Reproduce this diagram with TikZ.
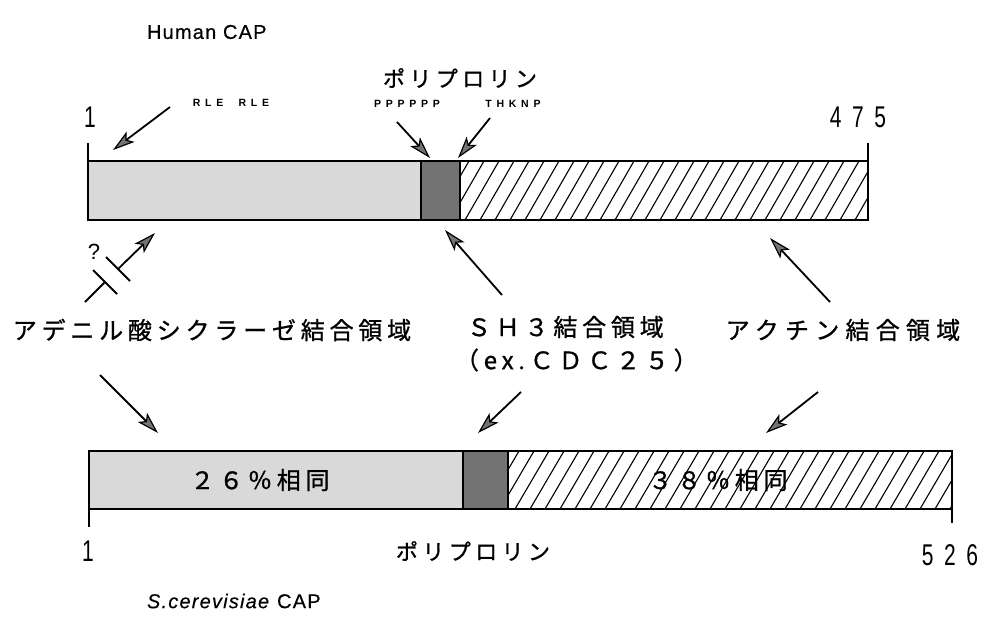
\documentclass[tikz,border=0pt]{standalone}
\usepackage{fontspec}
\usepackage{graphicx}
\setmainfont{Liberation Sans}
\newfontfamily\jp[LetterSpace=20,FakeBold=1.0]{Noto Sans CJK JP}
\newfontfamily\jpw[LetterSpace=26,FakeBold=1.0]{Noto Sans CJK JP}
\newfontfamily\lat[LetterSpace=6,FakeBold=0.4]{Liberation Sans}
\newfontfamily\smallsp[LetterSpace=45]{Liberation Sans}
\usetikzlibrary{arrows.meta,calc}
\tikzset{
  barline/.style={draw,line width=1.7pt},
  lightseg/.style={fill=black!15},
  darkseg/.style={fill=black!55},
  hatchline/.style={line width=1.1pt},
  arr/.style={line width=1.8pt,-{Stealth[length=22pt,width=13pt,inset=5pt,fill=black!55,line width=1.2pt]}},
  plain/.style={line width=1.8pt},
  lbl/.style={inner sep=0pt,outer sep=0pt},
  tick/.style={line width=1.7pt},
  numtxt/.style={lbl,font=\fontsize{30}{30}\selectfont}
}
\begin{document}
\begin{tikzpicture}[x=1pt,y=-1pt]
\useasboundingbox (0,0) rectangle (990,622);
% ---------- top bar (Human CAP) ----------
\path[lightseg] (88,161) rectangle (421,220);
\path[darkseg] (421,161) rectangle (460,220);
\begin{scope}
  \clip (460,161) rectangle (868,220);
  \foreach \x in {420,435,...,880} \draw[hatchline] (\x,220) -- ++(34,-59);
\end{scope}
\draw[barline] (88,161) rectangle (868,220);
\draw[barline] (421,161) -- (421,220) (460,161) -- (460,220);
\draw[tick] (88,161) -- (88,143);
\draw[tick] (868,161) -- (868,143);
% ---------- bottom bar (S. cerevisiae CAP) ----------
\path[lightseg] (89,451) rectangle (463,509);
\path[darkseg] (463,451) rectangle (508,509);
\begin{scope}
  \clip (508,451) rectangle (952,509);
  \foreach \x in {470,485,...,960} \draw[hatchline] (\x,509) -- ++(34,-58);
\end{scope}
\draw[barline] (89,451) rectangle (952,509);
\draw[barline] (463,451) -- (463,509) (508,451) -- (508,509);
\draw[tick] (89,509) -- (89,527);
\draw[tick] (952,509) -- (952,523);
% ---------- labels ----------
\node[lbl,anchor=west] (human) at (147,32) {\lat\fontsize{20}{20}\selectfont Human CAP};
\node[lbl] (polytop) at (460,78) {\jp\fontsize{22}{22}\selectfont ポリプロリン};
\node[lbl] (rle) at (231,103) {\smallsp\bfseries\fontsize{10.5}{11}\selectfont RLE\ \ RLE};
\node[lbl] (ppp) at (407,104) {\smallsp\bfseries\fontsize{10.5}{11}\selectfont PPPPPP};
\node[lbl] (thk) at (513,104) {\smallsp\bfseries\fontsize{10.5}{11}\selectfont THKNP};
\node[numtxt] (one1) at (90,117) {\scalebox{0.7}[1]{1}};
\node[numtxt] (n475) at (858,117) {\scalebox{0.7}[1]{4\,\,\,7\,\,\,5}};
\node[lbl] (qmark) at (94,252) {\fontsize{22}{22}\selectfont ?};
\node[lbl] (adc) at (212,330) {\jp\fontsize{24}{24}\selectfont アデニル酸シクラーゼ結合領域};
\node[lbl,anchor=west] (sh3) at (467,327) {\jp\fontsize{24}{24}\selectfont ＳＨ３結合領域};
\node[lbl,anchor=west] (cdc) at (455,360) {\jp\fontsize{24}{24}\selectfont （ex.ＣＤＣ２５）};
\node[lbl] (actin) at (843,330) {\jpw\fontsize{24}{24}\selectfont アクチン結合領域};
\node[lbl] (h26) at (260,480) {\jp\fontsize{24}{24}\selectfont ２６％相同};
\node[lbl,fill=none] (h38) at (718,480) {\jp\fontsize{24}{24}\selectfont ３８％相同};
\node[numtxt] (one2) at (88,551) {\scalebox{0.7}[1]{1}};
\node[lbl] (polybot) at (473,551) {\jp\fontsize{22}{22}\selectfont ポリプロリン};
\node[numtxt] (n526) at (950,555) {\scalebox{0.7}[1]{5\,\,\,2\,\,\,6}};
\node[lbl,anchor=west] (scer) at (147,601) {\lat\fontsize{20}{20}\selectfont \textit{S.cerevisiae} CAP};
% ---------- arrow end points ----------
\coordinate (rleS) at (170,107);   \coordinate (rleT) at (113,150);
\coordinate (pppS) at (397,122);   \coordinate (pppT) at (430,158);
\coordinate (thkS) at (490,118);   \coordinate (thkT) at (458,158);
\coordinate (adcS) at (85,302);    \coordinate (adcT) at (155,233);
\coordinate (adcB1) at (105,282);  \coordinate (adcB2) at (118,269);
\coordinate (sh3S) at (502,295);   \coordinate (sh3T) at (445,230);
\coordinate (actS) at (830,302);   \coordinate (actT) at (770,238);
\coordinate (adcDS) at (100,375);  \coordinate (adcDT) at (158,433);
\coordinate (sh3DS) at (521,392);  \coordinate (sh3DT) at (478,433);
\coordinate (actDS) at (818,392);  \coordinate (actDT) at (766,433);
% ---------- arrows ----------
\draw[arr] (rleS) -- (rleT);
\draw[arr] (pppS) -- (pppT);
\draw[arr] (thkS) -- (thkT);
\draw[plain] (adcS) -- (adcB1);
\draw[arr] (adcB2) -- (adcT);
\draw[plain] ($(adcB1)+(-12,-12)$) -- ($(adcB1)+(12,12)$);
\draw[plain] ($(adcB2)+(-12,-12)$) -- ($(adcB2)+(12,12)$);
\draw[arr] (sh3S) -- (sh3T);
\draw[arr] (actS) -- (actT);
\draw[arr] (adcDS) -- (adcDT);
\draw[arr] (sh3DS) -- (sh3DT);
\draw[arr] (actDS) -- (actDT);
\end{tikzpicture}
\end{document}
